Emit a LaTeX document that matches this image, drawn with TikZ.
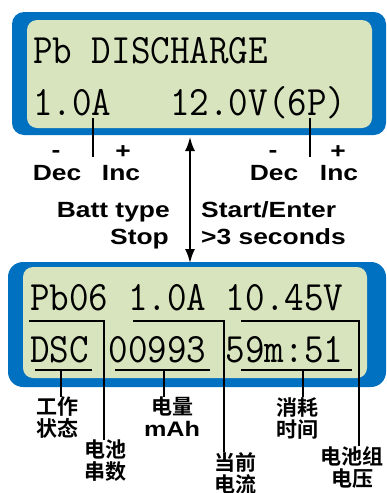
\documentclass[tikz,border=0pt]{standalone}
\usepackage{fontspec}
\setmainfont{Liberation Sans}
\newfontfamily\keyfont[FakeStretch=1.2]{Liberation Sans Bold}
\newfontfamily\cjk{Noto Sans CJK SC Bold}
\usetikzlibrary{positioning,calc,arrows.meta}

\definecolor{lcdblue}{RGB}{0,112,192}
\definecolor{lcdgreen}{RGB}{216,228,189}
\newcommand{\lcdtxt}[1]{\scalebox{1}[1.1]{\fontsize{38}{38}\selectfont\ttfamily #1}}

\tikzset{
    lcd/.style={anchor=base west, inner sep=0pt},
    key/.style={anchor=base, inner sep=0pt, font=\keyfont\fontsize{22}{22}\selectfont},
    tag/.style={anchor=north, inner sep=0pt, align=center, font=\cjk\fontsize{21}{22}\selectfont},
    lead/.style={line width=1.3pt},
}

\begin{document}
\begin{tikzpicture}[x=1pt,y=-1pt]
    \useasboundingbox (0,0) rectangle (387,493);

    % top display
    \fill[lcdblue, rounded corners=12pt] (12,12) rectangle (386,135);
    \fill[lcdgreen, rounded corners=10pt] (27,20) rectangle (372,128);
    \node[lcd] (title) at (33,63) {\lcdtxt{Pb DISCHARGE}};
    \node[lcd] (setline) at (33,115) {\lcdtxt{1.0A\ \ \ 12.0V(6P)}};

    % keys
    \node[key] (minus1) at (56,157) {-};
    \node[key] (dec1) at (57,180) {Dec};
    \node[key] (plus1) at (123,158) {+};
    \node[key] (inc1) at (121,180) {Inc};
    \node[key] (minus2) at (273,157) {-};
    \node[key] (dec2) at (274,180) {Dec};
    \node[key] (plus2) at (338,158) {+};
    \node[key] (inc2) at (339,180) {Inc};
    \coordinate (amp) at (93,118);
    \coordinate (cells) at (310,118);
    \draw[lead] (amp) -- (amp |- minus1.base);
    \draw[lead] (cells) -- (cells |- minus2.base);

    \node[key, anchor=base east] (batt) at (170,217) {Batt type};
    \node[key, anchor=base east] (stop) at (169,244) {Stop};
    \node[key, anchor=base west] (start) at (201,217) {Start/Enter};
    \node[key, anchor=base west] (hold) at (201,244) {>3 seconds};
    \coordinate (arrtop) at (190,137);
    \coordinate (arrbot) at (190,263);
    \draw[{Latex[length=14pt,width=10pt]}-{Latex[length=14pt,width=10pt]}, line width=1.8pt] (arrtop) -- (arrbot);

    % bottom display
    \fill[lcdblue, rounded corners=15pt] (8,262) rectangle (386,387);
    \fill[lcdgreen, rounded corners=10pt] (23,267) rectangle (367,378);
    \node[lcd] (row1) at (30,310) {\lcdtxt{Pb06 1.0A 10.45V}};
    \node[lcd] (row2) at (30,362) {\lcdtxt{DSC 00993 59m:51}};

    % labels below
    \node[tag] (mode) at (57,397) {工作\\状态};
    \node[tag] (count) at (105,440) {电池\\串数};
    \node[tag] (cap) at (172,397) {电量\\{\keyfont\fontsize{21}{21}\selectfont mAh}};
    \node[tag] (curr) at (235,452) {当前\\电流};
    \node[tag] (time) at (297,397) {消耗\\时间};
    \node[tag] (volt) at (352,446) {电池组\\电压};

    % brackets from the top row
    \coordinate (b1) at (29,321);
    \coordinate (c1) at (104,321);
    \coordinate (b2) at (133,321);
    \coordinate (c2) at (224,321);
    \coordinate (b3) at (241,321);
    \coordinate (c3) at (359,321);
    \draw[lead] (b1) -- (c1) -- (c1 |- count.north);
    \draw[lead] (b2) -- (c2) -- (c2 |- curr.north);
    \draw[lead] (b3) -- (c3) -- (c3 |- volt.north);

    % underlines of the bottom row
    \draw[lead] (35,370) -- (92,370);
    \draw[lead] (115,370) -- (210,370);
    \draw[lead] (241,370) -- (352,370);
    \coordinate (u1) at (61,370);
    \coordinate (u2) at (164,370);
    \coordinate (u3) at (303,370);
    \draw[lead] (u1) -- (u1 |- mode.north);
    \draw[lead] (u2) -- (u2 |- cap.north);
    \draw[lead] (u3) -- (u3 |- time.north);
\end{tikzpicture}
\end{document}
